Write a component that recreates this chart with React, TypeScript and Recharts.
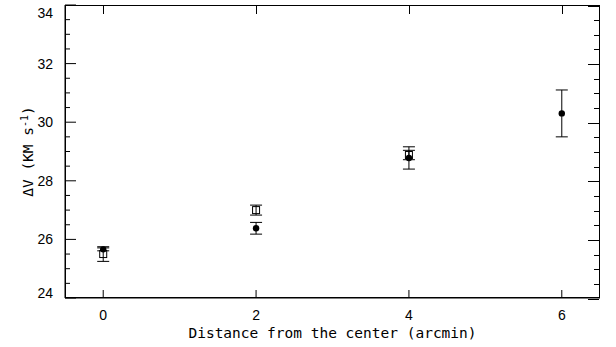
import { ComposedChart, ErrorBar, Scatter, XAxis, YAxis } from "recharts";

// distances (arcmin) and velocity dispersion, two samples
const filledDist = [0, 2, 4, 6];
const filledV = [25.66, 26.38, 28.78, 30.3];
const filledErr = [0.05, 0.2, 0.38, 0.8];

const openDist = [0, 2, 4];
const openV = [25.5, 27.0, 28.88];
const openErr = [0.25, 0.17, 0.16];

const xTicks = [0, 2, 4, 6];
const yTicks = [24, 24.5, 25, 25.5, 26, 26.5, 27, 27.5, 28, 28.5, 29, 29.5, 30, 30.5, 31, 31.5, 32, 32.5, 33, 33.5, 34];
const xDomain = [-0.5, 6.5];
const yDomain = [24, 34];

const filled = filledDist.map((d, i) => ({ x: d, v: filledV[i], err: filledErr[i] }));
const open = openDist.map((d, i) => ({ x: d, v: openV[i], err: openErr[i] }));

// chart box
const W = 616;
const H = 347;
const M = { top: 5, right: 16, left: 0, bottom: 0 };
const Y_AXIS_W = 65;
const X_AXIS_H = 49;
const plotL = M.left + Y_AXIS_W;
const plotT = M.top;
const plotW = W - M.right - plotL;
const plotH = H - M.bottom - X_AXIS_H - plotT;

const sans = "'Liberation Sans', Arial, sans-serif";
const mono = "'DejaVu Sans Mono', 'Liberation Mono', monospace";

const isMajor = (v: number) => v % 2 === 0;

const LeftTick = (p: any) => {
  const { x, y, payload } = p;
  const v = payload.value;
  let dy = 5;
  if (v === yDomain[1]) dy = 13;
  if (v === yDomain[0]) dy = 0;
  return (
    <g>
      <line x1={x} y1={y} x2={x + (isMajor(v) ? 11 : 5)} y2={y} stroke="#000" />
      {isMajor(v) && (
        <text x={x - 12} y={y + dy} textAnchor="end" fontFamily={sans} fontSize={14} fill="#000">
          {v}
        </text>
      )}
    </g>
  );
};

const BottomTick = (p: any) => {
  const { x, y, payload } = p;
  return (
    <g>
      <line x1={x} y1={y} x2={x} y2={y - 8} stroke="#000" />
      <text x={x} y={y + 22} textAnchor="middle" fontFamily={sans} fontSize={14} fill="#000">
        {payload.value}
      </text>
    </g>
  );
};

// box edge positions for the mirrored ticks on top and right
const px = (v: number) => plotL + ((v - xDomain[0]) / (xDomain[1] - xDomain[0])) * plotW;
const py = (v: number) => plotT + ((yDomain[1] - v) / (yDomain[1] - yDomain[0])) * plotH;

const Box = () => (
  <div
    style={{
      position: "absolute",
      left: plotL,
      top: plotT,
      width: plotW,
      height: plotH,
      border: "1px solid #000",
      boxSizing: "border-box",
      pointerEvents: "none",
    }}
  >
    {yTicks.map((t) => (
      <div
        key={`r${t}`}
        style={{
          position: "absolute",
          right: 0,
          top: py(t) - plotT - 0.5,
          width: isMajor(t) ? 11 : 5,
          height: 1,
          background: "#000",
        }}
      />
    ))}
    {xTicks.map((t) => (
      <div
        key={`t${t}`}
        style={{
          position: "absolute",
          top: 0,
          left: px(t) - plotL - 1,
          width: 1,
          height: 8,
          background: "#000",
        }}
      />
    ))}
  </div>
);

const Dot = (p: any) => <circle cx={p.cx} cy={p.cy} r={3.2} fill="#000" />;
const Square = (p: any) => (
  <rect x={p.cx - 3.5} y={p.cy - 3.5} width={7} height={7} fill="none" stroke="#000" strokeWidth={1} />
);

const XTitle = () => (
  <text x={plotL + plotW / 2} y={338} textAnchor="middle" fontFamily={mono} fontSize={14.5} fill="#000">
    Distance from the center (arcmin)
  </text>
);

const YTitle = () => {
  const cx = 33;
  const cy = plotT + plotH / 2;
  return (
    <text x={cx} y={cy} transform={`rotate(-90 ${cx} ${cy})`} textAnchor="middle" fontFamily={mono} fontSize={14.5} fill="#000">
      <tspan>ΔV (KM s</tspan>
      <tspan dy={-5} fontSize={10}>
        -1
      </tspan>
      <tspan dy={5}>)</tspan>
    </text>
  );
};

export default function App() {
  return (
    <div style={{ position: "absolute", left: 0, top: 0, width: W, height: H, background: "#fff" }}>
      <ComposedChart width={W} height={H} margin={M}>
        <XAxis
          dataKey="x"
          type="number"
          domain={xDomain}
          ticks={xTicks}
          interval={0}
          height={X_AXIS_H}
          tickSize={0}
          tickMargin={0}
          tickLine={false}
          tick={<BottomTick />}
          axisLine={{ stroke: "#000" }}
          label={{ content: <XTitle /> }}
        />
        <YAxis
          dataKey="v"
          type="number"
          domain={yDomain}
          ticks={yTicks}
          interval={0}
          width={Y_AXIS_W}
          tickSize={0}
          tickMargin={0}
          tickLine={false}
          tick={<LeftTick />}
          axisLine={{ stroke: "#000" }}
          label={{ content: <YTitle /> }}
        />
        <Scatter data={open} shape={<Square />} isAnimationActive={false}>
          <ErrorBar dataKey="err" direction="y" width={6} stroke="#000" strokeWidth={1} />
        </Scatter>
        <Scatter data={filled} shape={<Dot />} isAnimationActive={false}>
          <ErrorBar dataKey="err" direction="y" width={6} stroke="#000" strokeWidth={1} />
        </Scatter>
      </ComposedChart>
      <Box />
    </div>
  );
}
